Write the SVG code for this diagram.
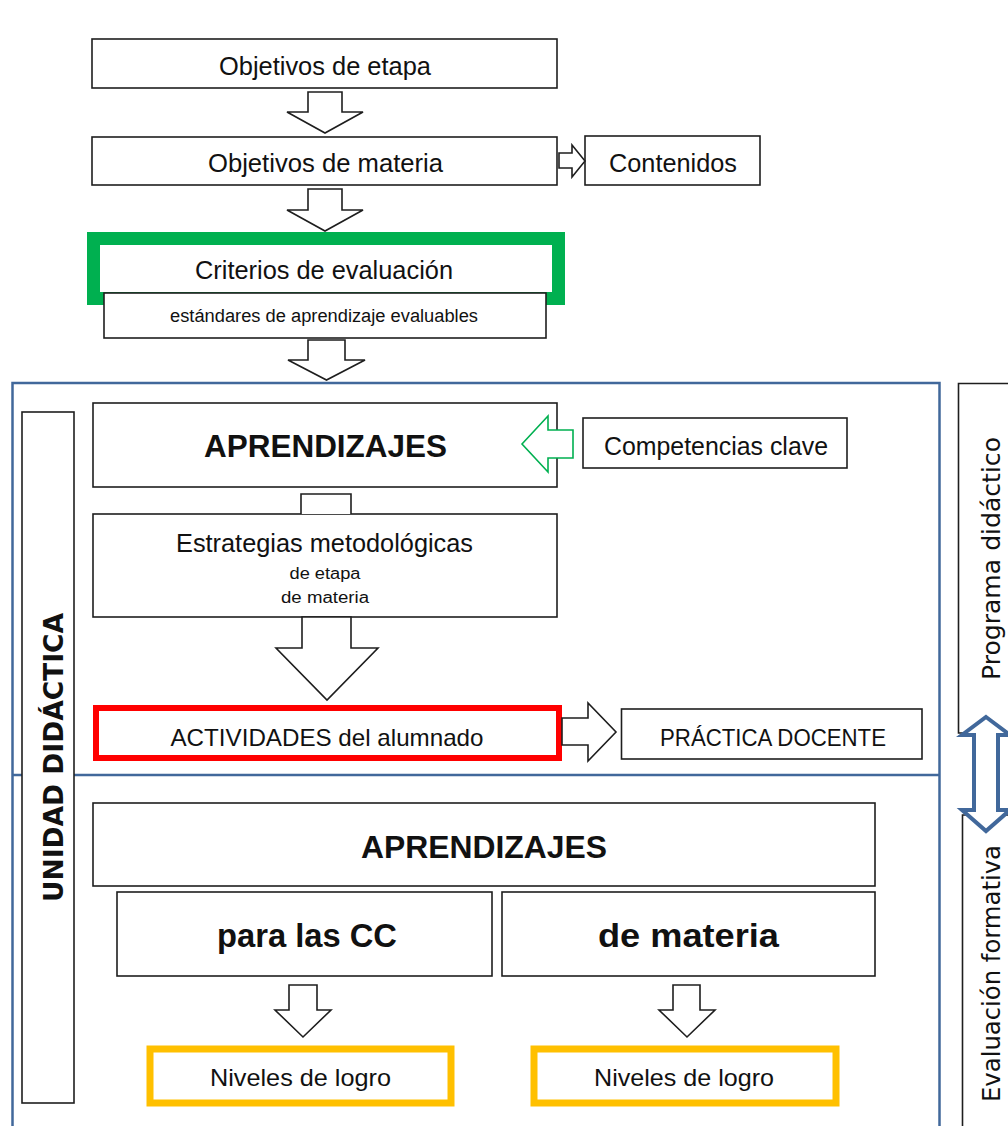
<svg xmlns="http://www.w3.org/2000/svg" width="1008" height="1126" viewBox="0 0 1008 1126">
<style>
.box{fill:#fff;stroke:#1e1e1e;stroke-width:1.6}
.arr{fill:#fff;stroke:#1e1e1e;stroke-width:1.6;stroke-linejoin:miter}
.t{font-family:"Liberation Sans",Arial,sans-serif;fill:#111;text-anchor:middle}
.b{font-weight:bold}
.v{font-family:"DejaVu Sans",Verdana,sans-serif;fill:#111;text-anchor:middle}
.blue{fill:none;stroke:#41689b;stroke-width:2.5}
</style>
<rect width="1008" height="1126" fill="#fff"/>

<g id="frame">
<path class="blue" d="M12.5,1130 V383 H939.5 V1130"/>
<line class="blue" x1="12.5" y1="775" x2="939.5" y2="775"/>
</g>

<g id="programa">
<path class="box" d="M1012,383.5 H958.5 V733 H1012"/>
<text class="v" font-size="24" textLength="243" lengthAdjust="spacingAndGlyphs" transform="translate(1000,558.5) rotate(-90)">Programa didáctico</text>
</g>
<g id="evaluacion">
<path class="box" d="M1012,815 H962.5 V1130"/>
<text class="v" font-size="24" textLength="257" lengthAdjust="spacingAndGlyphs" transform="translate(1000,973.5) rotate(-90)">Evaluación formativa</text>
</g>

<g id="unidad">
<rect class="box" x="22" y="412" width="52" height="691"/>
<text class="v b" font-size="26" textLength="289" lengthAdjust="spacingAndGlyphs" transform="translate(63,757.5) rotate(-90)">UNIDAD DIDÁCTICA</text>
</g>

<g id="objetivos-etapa">
<rect class="box" x="92" y="39" width="465" height="49"/>
<text class="t" x="325" y="75" font-size="25" textLength="212" lengthAdjust="spacingAndGlyphs">Objetivos de etapa</text>
</g>
<g id="objetivos-materia">
<rect class="box" x="92" y="137" width="465" height="48"/>
<text class="t" x="325.5" y="172" font-size="25" textLength="235" lengthAdjust="spacingAndGlyphs">Objetivos de materia</text>
</g>
<g id="contenidos">
<rect class="box" x="585" y="136" width="175" height="49"/>
<text class="t" x="673" y="172" font-size="25" textLength="128" lengthAdjust="spacingAndGlyphs">Contenidos</text>
</g>
<g id="criterios">
<rect x="93.5" y="238.5" width="465" height="60" fill="#fff" stroke="#00b050" stroke-width="13"/>
<text class="t" x="324" y="279" font-size="25" textLength="258" lengthAdjust="spacingAndGlyphs">Criterios de evaluación</text>
</g>
<g id="estandares">
<rect class="box" x="104" y="293" width="442" height="45"/>
<text class="t" x="324" y="321.5" font-size="18" textLength="308" lengthAdjust="spacingAndGlyphs">estándares de aprendizaje evaluables</text>
</g>

<g id="aprendizajes-1">
<rect class="box" x="93" y="403" width="464" height="84"/>
<text class="t b" x="325.5" y="457" font-size="32" textLength="243" lengthAdjust="spacingAndGlyphs">APRENDIZAJES</text>
</g>
<g id="competencias">
<rect class="box" x="583" y="418" width="264" height="50"/>
<text class="t" x="716" y="455" font-size="25" textLength="224" lengthAdjust="spacingAndGlyphs">Competencias clave</text>
</g>
<g id="estrategias">
<rect class="box" x="93" y="514" width="464" height="103"/>
<text class="t" x="324.5" y="552" font-size="25" textLength="297" lengthAdjust="spacingAndGlyphs">Estrategias metodológicas</text>
<text class="t" x="325" y="579" font-size="16" textLength="71" lengthAdjust="spacingAndGlyphs">de etapa</text>
<text class="t" x="325" y="603" font-size="16" textLength="88" lengthAdjust="spacingAndGlyphs">de materia</text>
</g>
<g id="actividades">
<rect x="96" y="708" width="463" height="50" fill="#fff" stroke="#ff0000" stroke-width="6"/>
<text class="t" x="327" y="746" font-size="24" textLength="313" lengthAdjust="spacingAndGlyphs">ACTIVIDADES del alumnado</text>
</g>
<g id="practica">
<rect class="box" x="621.5" y="709" width="300.5" height="50"/>
<text class="t" x="773" y="746" font-size="24" textLength="226" lengthAdjust="spacingAndGlyphs">PRÁCTICA DOCENTE</text>
</g>

<g id="aprendizajes-2">
<rect class="box" x="93" y="803" width="782" height="83"/>
<text class="t b" x="484" y="858" font-size="32" textLength="246" lengthAdjust="spacingAndGlyphs">APRENDIZAJES</text>
</g>
<g id="para-cc">
<rect class="box" x="117" y="892" width="375" height="84"/>
<text class="t b" x="307" y="947" font-size="33" textLength="180" lengthAdjust="spacingAndGlyphs">para las CC</text>
</g>
<g id="de-materia">
<rect class="box" x="502" y="892" width="373" height="84"/>
<text class="t b" x="688.5" y="947" font-size="33" textLength="181" lengthAdjust="spacingAndGlyphs">de materia</text>
</g>
<g id="niveles-1">
<rect x="150" y="1049" width="301" height="54" fill="#fff" stroke="#ffc000" stroke-width="7"/>
<text class="t" x="300.5" y="1086" font-size="24" textLength="181" lengthAdjust="spacingAndGlyphs">Niveles de logro</text>
</g>
<g id="niveles-2">
<rect x="534" y="1049" width="302" height="54" fill="#fff" stroke="#ffc000" stroke-width="7"/>
<text class="t" x="684" y="1086" font-size="24" textLength="180" lengthAdjust="spacingAndGlyphs">Niveles de logro</text>
</g>

<g id="connectors">
<polygon class="arr" points="308,92 342,92 342,112 363,112 325,133 287,112 308,112"/>
<polygon class="arr" points="308,189 342,189 342,210 363,210 325,231 287,210 308,210"/>
<polygon class="arr" points="559,153 572,153 572,145 585,161 572,177 572,168 559,168"/>
<polygon class="arr" points="308,340 345,340 345,360 365,360 326.5,380 288,360 308,360"/>
<polygon points="522,444 548,416 548,430 573,430 573,458 548,458 548,472" fill="#fff" stroke="#00b050" stroke-width="1.6"/>
<path class="arr" d="M301,514 V494 H351 V514"/>
<polygon class="arr" points="302,617 351,617 351,648 378,648 327,700 276,648 302,648"/>
<polygon class="arr" points="562,718 588,718 588,703 616,732 588,761 588,745 562,745" stroke-width="2"/>
<polygon points="986,717 1010,735 998,735 998,810 1010,810 986,831 962,810 974,810 974,735 962,735" fill="#fff" stroke="#41689b" stroke-width="4" stroke-linejoin="miter"/>
<polygon class="arr" points="289,985 317,985 317,1010 331,1010 303,1037 275,1010 289,1010"/>
<polygon class="arr" points="673,985 700,985 700,1010 715,1010 687,1037 659,1010 673,1010"/>
</g>
</svg>
